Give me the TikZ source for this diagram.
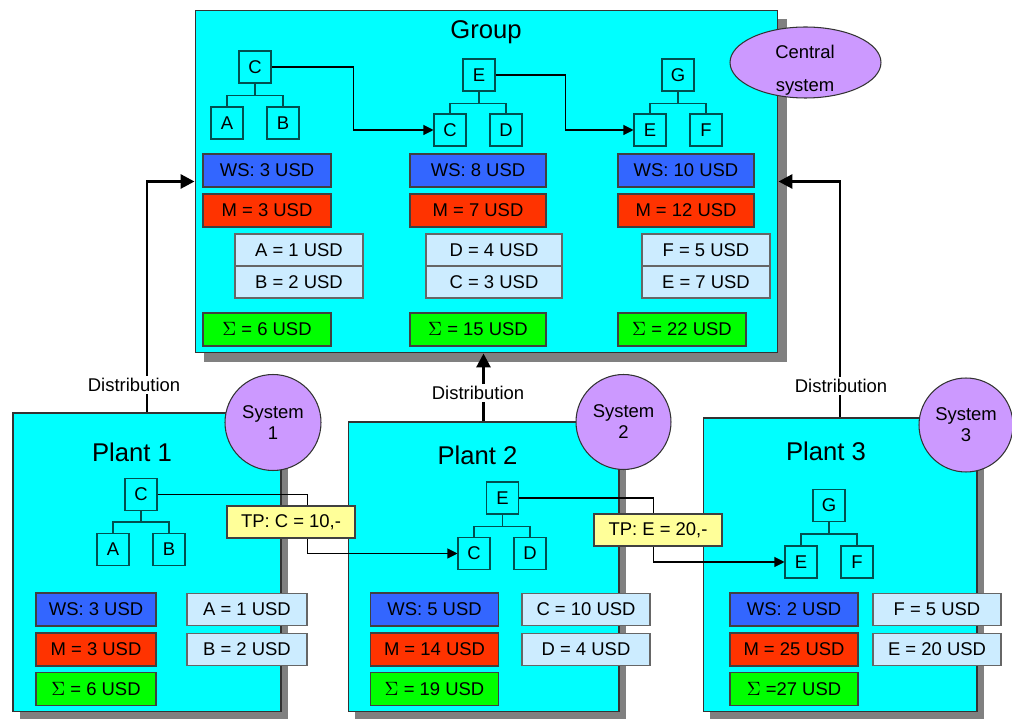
\documentclass[tikz,border=0pt]{standalone}
\usepackage{fontspec}
\setmainfont{Liberation Sans}
\usetikzlibrary{arrows.meta, shadows, shapes.geometric}
\definecolor{panelcyan}{HTML}{00FFFF}
\definecolor{wsblue}{HTML}{3366FF}
\definecolor{mred}{HTML}{FF3300}
\definecolor{sgreen}{HTML}{00FF00}
\definecolor{lblue}{HTML}{CCECFF}
\definecolor{tpyellow}{HTML}{FFFF99}
\definecolor{sysviolet}{HTML}{CC99FF}
\definecolor{tealdark}{HTML}{005050}
\newcommand\boxfont{\fontsize{10.5}{12}\selectfont}
\newcommand\titlefont{\fontsize{14.6}{17}\selectfont}

\begin{document}
\begin{tikzpicture}[x=0.02cm, y=-0.02cm,
  panel/.style={draw=black!80, fill=panelcyan, line width=0.6pt, inner sep=0pt,
    drop shadow={shadow xshift=#1, shadow yshift=-#1, fill=black!50, opacity=1}},
  panel/.default=0.14cm,
  title/.style={font=\titlefont, inner sep=0pt},
  cell/.style={draw=black!75, line width=0.6pt, minimum width=#1, minimum height=0.66cm, inner sep=0pt, font=\boxfont},
  ws/.style={cell=#1, fill=wsblue}, ws/.default=2.56cm,
  mm/.style={cell=#1, fill=mred}, mm/.default=2.56cm,
  sum/.style={cell=#1, fill=sgreen}, sum/.default=2.56cm,
  part/.style={cell=#1, fill=lblue, draw=black!60, minimum height=0.64cm}, part/.default=2.56cm,
  tbox/.style={draw=tealdark, line width=0.6pt, minimum size=0.64cm, inner sep=0pt, font=\boxfont},
  tree/.style={draw=tealdark, line width=0.6pt},
  link/.style={-{Triangle[length=0.2cm, width=0.2cm]}, line width=0.6pt},
  dist/.style={-{Triangle[length=0.28cm, width=0.28cm]}, line width=1.7pt},
  distlbl/.style={fill=white, inner sep=1pt, font=\boxfont},
  tp/.style={draw=black!75, line width=0.6pt, fill=tpyellow, minimum width=2.56cm, minimum height=0.64cm, inner sep=0pt, font=\boxfont},
  sys/.style={circle, draw=black!80, line width=0.6pt, fill=sysviolet, minimum size=#1, inner sep=0pt, align=center, font=\boxfont}]
\useasboundingbox (0,0) rectangle (1012,719);

% panels
\node[panel=0.18cm, minimum width=11.66cm, minimum height=6.86cm] (group) at (486.5,181.5) {};
\node[panel, minimum width=5.36cm, minimum height=5.98cm] (plant1) at (147,562.5) {};
\node[panel, minimum width=5.42cm, minimum height=5.8cm] (plant2) at (483.5,567) {};
\node[panel, minimum width=5.48cm, minimum height=5.88cm] (plant3) at (840,565) {};

% distribution into the group
\draw[dist] (plant1.north) |- (group.west);
\draw[dist] (plant2.north) -- (plant2.north |- group.south);
\draw[dist] (plant3.north) |- (group.east);
\node[distlbl] (dist1) at (134,385) {Distribution};
\node[distlbl] (dist2) at (478,393) {Distribution};
\node[distlbl] (dist3) at (841,386) {Distribution};

% Group: central system
\node[title] (grouptitle) at (486,32) {Group};
\node[ellipse, draw=black!80, line width=0.6pt, fill=sysviolet, minimum width=3.02cm, minimum height=1.42cm] (central) at (805.5,62.5) {};
\node[font=\fontsize{10.5}{19}\selectfont, align=center] (centraltxt) at (805,70) {Central\\system};

% Group: trees
\node[tbox] (g1C) at (255,67)  {C};
\node[tbox] (g1A) at (227,123) {A};
\node[tbox] (g1B) at (283,123) {B};
\node[tbox] (g2E) at (479,75)  {E};
\node[tbox] (g2C) at (450,130) {C};
\node[tbox] (g2D) at (506,130) {D};
\node[tbox] (g3G) at (678,75)  {G};
\node[tbox] (g3E) at (650,130) {E};
\node[tbox] (g3F) at (706,130) {F};
\foreach \k in {A,B} \draw[tree] (g1C.south) -- ++(0,12) -| (g1\k.north);
\foreach \k in {C,D} \draw[tree] (g2E.south) -- ++(0,12) -| (g2\k.north);
\foreach \k in {E,F} \draw[tree] (g3G.south) -- ++(0,12) -| (g3\k.north);
\draw[link] (g1C.east) -- ++(82,0) |- (g2C.west);
\draw[link] (g2E.east) -- ++(70,0) |- (g3E.west);

% Group: values
\node[ws]  (gws1) at (267,170.5) {WS: 3 USD};
\node[mm]  (gm1)  at (267,210.5) {M = 3 USD};
\node[part] (ga1) at (299,250)   {A = 1 USD};
\node[part] (gb1) at (299,282)   {B = 2 USD};
\node[sum] (gs1)  at (267,329.5) {$\Sigma$ = 6 USD};
\node[ws=2.72cm]  (gws2) at (478,170.5) {WS: 8 USD};
\node[mm=2.72cm]  (gm2)  at (478,210.5) {M = 7 USD};
\node[part=2.72cm] (gd2) at (494,250)   {D = 4 USD};
\node[part=2.72cm] (gc2) at (494,282)   {C = 3 USD};
\node[sum=2.72cm] (gs2)  at (478,329.5) {$\Sigma$ = 15 USD};
\node[ws=2.72cm]  (gws3) at (686,170.5) {WS: 10 USD};
\node[mm=2.72cm]  (gm3)  at (686,210.5) {M = 12 USD};
\node[part] (gf3) at (706,250)   {F = 5 USD};
\node[part] (ge3) at (706,282)   {E = 7 USD};
\node[sum]  (gs3) at (682,329.5) {$\Sigma$ = 22 USD};

% Plant 1
\node[title] (p1title) at (132,452) {Plant 1};
\node[tbox] (p1C) at (141,494.5) {C};
\node[tbox] (p1A) at (113,549.5) {A};
\node[tbox] (p1B) at (169,549.5) {B};
\foreach \k in {A,B} \draw[tree] (p1C.south) -- ++(0,11) -| (p1\k.north);
\node[ws=2.4cm]   (p1ws) at (96,609.5)  {WS: 3 USD};
\node[mm=2.4cm]   (p1m)  at (96,649.5)  {M = 3 USD};
\node[sum=2.4cm]  (p1s)  at (96,689)    {$\Sigma$ = 6 USD};
\node[part=2.4cm] (p1a)  at (247,609.5) {A = 1 USD};
\node[part=2.4cm] (p1b)  at (247,649.5) {B = 2 USD};

% Plant 2
\node[title] (p2title) at (477.5,455) {Plant 2};
\node[tbox] (p2E) at (502.5,498) {E};
\node[tbox] (p2C) at (474,553.5) {C};
\node[tbox] (p2D) at (530,553.5) {D};
\foreach \k in {C,D} \draw[tree] (p2E.south) -- ++(0,12) -| (p2\k.north);
\node[ws]   (p2ws) at (434.5,609.5) {WS: 5 USD};
\node[mm]   (p2m)  at (434.5,649.5) {M = 14 USD};
\node[sum]  (p2s)  at (434.5,689)   {$\Sigma$ = 19 USD};
\node[part] (p2c)  at (586,609.5)   {C = 10 USD};
\node[part] (p2d)  at (586,649.5)   {D = 4 USD};

% Plant 3
\node[title] (p3title) at (826,451) {Plant 3};
\node[tbox] (p3G) at (829,505.5) {G};
\node[tbox] (p3E) at (801,562) {E};
\node[tbox] (p3F) at (857,562) {F};
\foreach \k in {E,F} \draw[tree] (p3G.south) -- ++(0,12) -| (p3\k.north);
\node[ws]   (p3ws) at (794,609.5) {WS: 2 USD};
\node[mm]   (p3m)  at (794,649.5) {M = 25 USD};
\node[sum]  (p3s)  at (794,689)   {$\Sigma$ =27 USD};
\node[part] (p3f)  at (937,609.5) {F = 5 USD};
\node[part] (p3e)  at (937,649.5) {E = 20 USD};

% transfer prices between plants
\draw[link] (p1C.east) -- ++(150,0) |- (p2C.west);
\draw[link] (p2E.east) -- ++(134,0) |- (p3E.west);
\node[tp] (tp1) at (291,522) {TP: C = 10,-};
\node[tp] (tp2) at (658,530) {TP: E = 20,-};

% local systems
\node[sys=1.92cm] (sys1) at (273,422.5) {System\\1};
\node[sys=1.9cm]  (sys2) at (623.5,422) {System\\2};
\node[sys=1.88cm] (sys3) at (966,425)   {System\\3};
\end{tikzpicture}
\end{document}
